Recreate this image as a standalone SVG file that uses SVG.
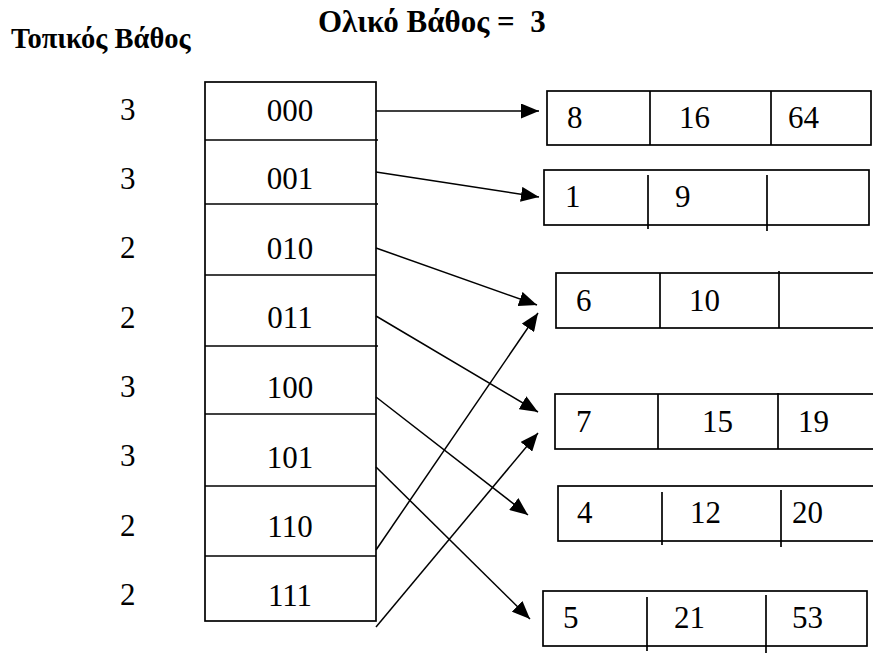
<svg xmlns="http://www.w3.org/2000/svg" width="873" height="655" viewBox="0 0 873 655">
<defs>
<style>
.t{font-family:Liberation Serif, serif;font-size:31px;fill:#000}
.h{font-family:Liberation Serif, serif;font-size:28.5px;font-weight:bold;fill:#000}
.b{fill:#fff;stroke:#000;stroke-width:1.7}
.d{stroke:#000;stroke-width:1.7}
.c{stroke:#000;stroke-width:1.5;fill:none}
.m{text-anchor:middle}
</style>
<marker id="ah" viewBox="0 0 18 15" refX="18" refY="7.5" markerWidth="18" markerHeight="15" markerUnits="userSpaceOnUse" orient="auto">
<path d="M0,0 L18,7.5 L0,15 Z" fill="#000"/>
</marker>
</defs>
<rect width="873" height="655" fill="#fff"/>
<g id="titles">
<text class="h" x="318" y="32" font-family="Liberation Serif, serif" xml:space="preserve" style="font-size:31px">Ολικό Βάθος =  3</text>
<text class="h" x="11" y="48" font-family="Liberation Serif, serif">Τοπικός Βάθος</text>
</g>
<g id="local-depths" font-family="Liberation Serif, serif">
<text class="t" x="120" y="120">3</text>
<text class="t" x="120" y="189">3</text>
<text class="t" x="120" y="258">2</text>
<text class="t" x="120" y="328">2</text>
<text class="t" x="120" y="397">3</text>
<text class="t" x="120" y="466">3</text>
<text class="t" x="120" y="536">2</text>
<text class="t" x="120" y="605">2</text>
</g>
<g id="directory" font-family="Liberation Serif, serif">
<rect class="b" x="205" y="82" width="171" height="539"/>
<line class="d" x1="205" y1="140" x2="378" y2="140"/>
<line class="d" x1="205" y1="204" x2="378" y2="204"/>
<line class="d" x1="205" y1="275" x2="376" y2="275"/>
<line class="d" x1="205" y1="346" x2="378" y2="346"/>
<line class="d" x1="205" y1="414" x2="376" y2="414"/>
<line class="d" x1="205" y1="486" x2="376" y2="486"/>
<line class="d" x1="205" y1="556" x2="376" y2="556"/>
<text class="t m" x="290" y="121">000</text>
<text class="t m" x="290" y="189">001</text>
<text class="t m" x="290" y="259">010</text>
<text class="t m" x="290" y="328">011</text>
<text class="t m" x="290" y="398">100</text>
<text class="t m" x="290" y="468">101</text>
<text class="t m" x="290" y="537">110</text>
<text class="t m" x="290" y="606">111</text>
</g>
<g id="bucket1" font-family="Liberation Serif, serif">
<rect class="b" x="547" y="91" width="324" height="54"/>
<line class="d" x1="650" y1="91" x2="650" y2="145"/>
<line class="d" x1="771" y1="91" x2="771" y2="145"/>
<text class="t" x="567" y="128">8</text>
<text class="t" x="679" y="128">16</text>
<text class="t" x="788" y="128">64</text>
</g>
<g id="bucket2" font-family="Liberation Serif, serif">
<rect class="b" x="544" y="170" width="325" height="55"/>
<line class="d" x1="648" y1="175" x2="648" y2="229"/>
<line class="d" x1="767" y1="175" x2="767" y2="231"/>
<text class="t" x="565" y="207">1</text>
<text class="t" x="675" y="207">9</text>
</g>
<g id="bucket3" font-family="Liberation Serif, serif">
<rect class="b" x="556" y="273" width="330" height="55"/>
<line class="d" x1="660" y1="273" x2="660" y2="328"/>
<line class="d" x1="779" y1="271" x2="779" y2="328"/>
<text class="t" x="576" y="311">6</text>
<text class="t" x="689" y="311">10</text>
</g>
<g id="bucket4" font-family="Liberation Serif, serif">
<rect class="b" x="555" y="394" width="330" height="55"/>
<line class="d" x1="658" y1="394" x2="658" y2="449"/>
<line class="d" x1="778" y1="393" x2="778" y2="449"/>
<text class="t" x="576" y="432">7</text>
<text class="t" x="702" y="432">15</text>
<text class="t" x="798" y="432">19</text>
</g>
<g id="bucket5" font-family="Liberation Serif, serif">
<rect class="b" x="558" y="486" width="330" height="55"/>
<line class="d" x1="662" y1="492" x2="662" y2="545"/>
<line class="d" x1="781" y1="490" x2="781" y2="547"/>
<text class="t" x="577" y="523">4</text>
<text class="t" x="690" y="523">12</text>
<text class="t" x="792" y="523">20</text>
</g>
<g id="bucket6" font-family="Liberation Serif, serif">
<rect class="b" x="543" y="591" width="324" height="55"/>
<line class="d" x1="647" y1="597" x2="647" y2="651"/>
<line class="d" x1="766" y1="595" x2="766" y2="653"/>
<text class="t" x="563" y="628">5</text>
<text class="t" x="674" y="628">21</text>
<text class="t" x="792" y="628">53</text>
</g>
<g id="connectors">
<line class="c" x1="376" y1="111" x2="539" y2="111" marker-end="url(#ah)"/>
<line class="c" x1="376" y1="172" x2="539" y2="197" marker-end="url(#ah)"/>
<line class="c" x1="376" y1="248" x2="537" y2="305" marker-end="url(#ah)"/>
<line class="c" x1="376" y1="316" x2="538" y2="412" marker-end="url(#ah)"/>
<line class="c" x1="376" y1="397" x2="528" y2="515" marker-end="url(#ah)"/>
<line class="c" x1="376" y1="467" x2="530" y2="619" marker-end="url(#ah)"/>
<line class="c" x1="376" y1="550" x2="538" y2="313" marker-end="url(#ah)"/>
<line class="c" x1="376" y1="627" x2="538" y2="433" marker-end="url(#ah)"/>
</g>
</svg>
